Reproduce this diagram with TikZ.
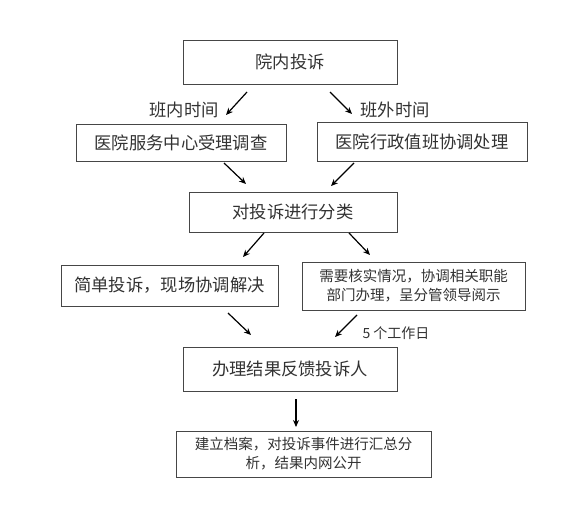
\documentclass[tikz,border=0pt]{standalone}
\usepackage{fontspec}
\newfontfamily\cjk{Noto Sans CJK SC}
\usetikzlibrary{arrows.meta}
\definecolor{boxline}{RGB}{70,70,70}
\definecolor{boxtext}{RGB}{50,50,50}

\tikzset{
  stepbox/.style={draw=boxline, line width=0.9pt, text=boxtext, align=center,
    inner sep=0pt, font=\cjk\fontsize{17.3}{20}\selectfont},
  smallbox/.style={stepbox, font=\cjk\fontsize{14.5}{19}\selectfont},
  flowlabel/.style={text=boxtext, inner sep=0pt, font=\cjk\fontsize{17.3}{20}\selectfont},
  flowarrow/.style={-{Stealth[length=7pt,width=6pt]}, line width=1.2pt, black}
}

\begin{document}
\begin{tikzpicture}[x=1pt, y=-1pt]
  \useasboundingbox (0,0) rectangle (580,519);

  % boxes
  \node[stepbox, minimum width=214pt, minimum height=44pt] (complaint) at (290,62) {院内投诉};
  \node[stepbox, minimum width=210pt, minimum height=37pt] (service) at (181,142.5) {医院服务中心受理调查};
  \node[stepbox, minimum width=210pt, minimum height=39pt] (duty) at (422,141.5) {医院行政值班协调处理};
  \node[stepbox, minimum width=208pt, minimum height=40pt] (classify) at (293,212) {对投诉进行分类};
  \node[stepbox, minimum width=217pt, minimum height=41pt] (simple) at (169.5,285.5) {简单投诉，现场协调解决};
  \node[smallbox, minimum width=223pt, minimum height=48pt] (verify) at (413.5,286) {需要核实情况，协调相关职能\\部门办理，呈分管领导阅示};
  \node[stepbox, minimum width=214pt, minimum height=44pt] (feedback) at (290,369) {办理结果反馈投诉人};
  \node[smallbox, minimum width=255pt, minimum height=46pt] (archive) at (303.5,454) {建立档案，对投诉事件进行汇总分\\析，结果内网公开};

  % labels
  \node[flowlabel] (inshift) at (184,110) {班内时间};
  \node[flowlabel] (offshift) at (395,110) {班外时间};
  \node[flowlabel, font=\cjk\fontsize{14}{16}\selectfont] (days) at (396,333) {5 个工作日};

  % arrow ends
  \coordinate (a1s) at (247,92);   \coordinate (a1e) at (226,115);
  \coordinate (a2s) at (330,92);   \coordinate (a2e) at (352,114);
  \coordinate (a3s) at (224,163);  \coordinate (a3e) at (246,184);
  \coordinate (a4s) at (354,163);  \coordinate (a4e) at (331,186);
  \coordinate (a5s) at (264,233);  \coordinate (a5e) at (243,257);
  \coordinate (a6s) at (349,233);  \coordinate (a6e) at (370,255);
  \coordinate (a7s) at (228,313);  \coordinate (a7e) at (251,335);
  \coordinate (a8s) at (357,315);  \coordinate (a8e) at (335,337);
  \coordinate (a9s) at (296,399);  \coordinate (a9e) at (296,427);

  \foreach \n in {1,...,9}
    \draw[flowarrow] (a\n s) -- (a\n e);
\end{tikzpicture}
\end{document}
